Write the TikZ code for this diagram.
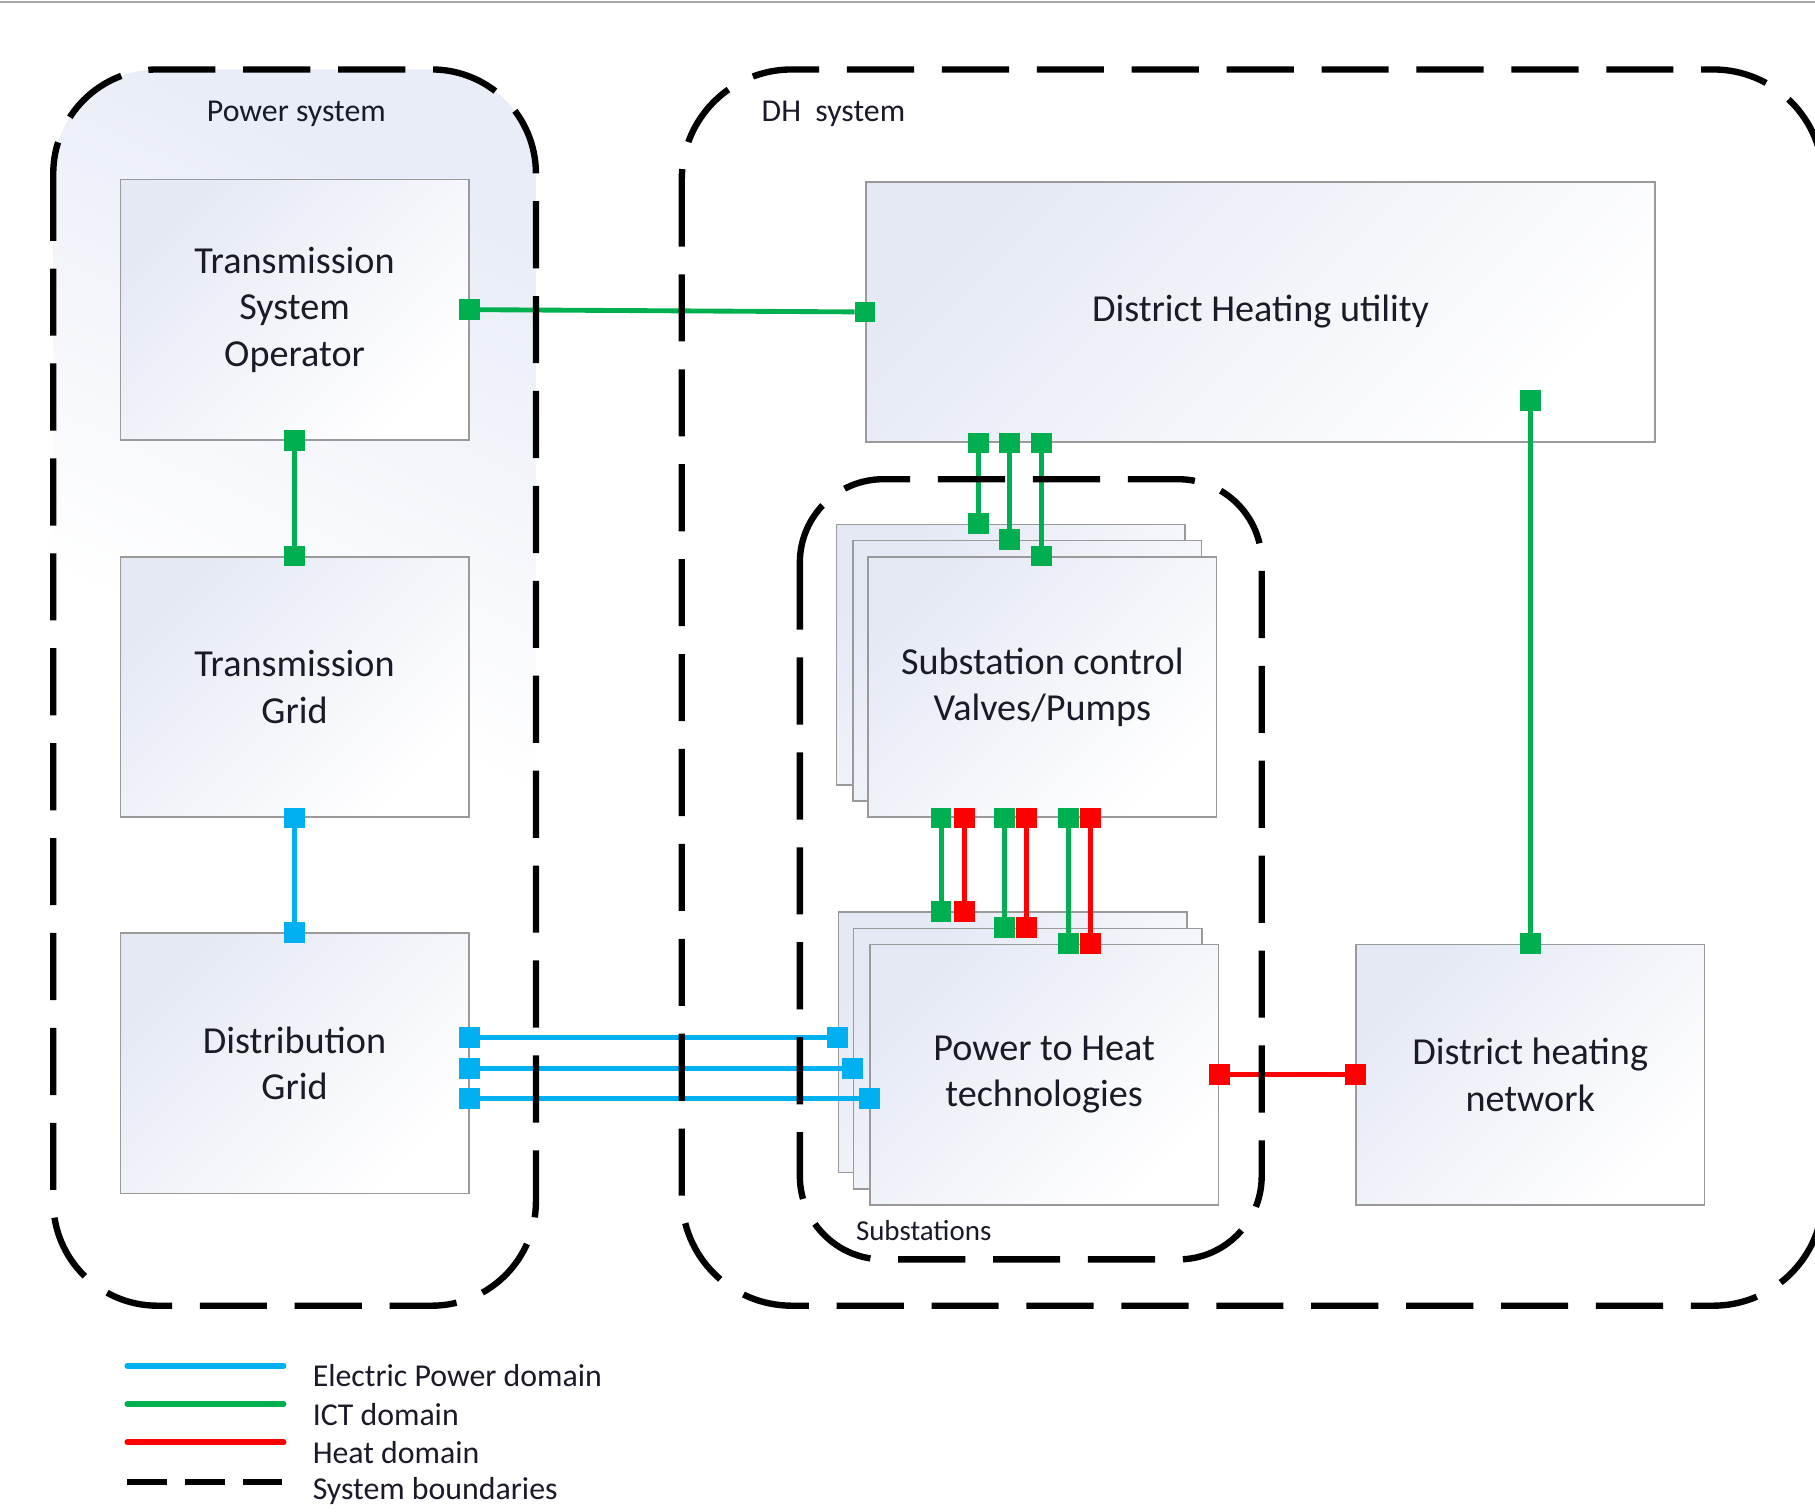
\documentclass[tikz,border=0pt]{standalone}
\usepackage{fontspec}
\setmainfont{Carlito}
\usetikzlibrary{calc}
\definecolor{epblue}{HTML}{00B0F0}
\definecolor{ictgreen}{HTML}{00B050}
\definecolor{heatred}{HTML}{FF0000}
\definecolor{boxblue}{HTML}{E5E9F4}
\definecolor{psblue}{HTML}{E9EDF7}
\definecolor{boxedge}{HTML}{9A9A9A}
\definecolor{txt}{HTML}{1A1A28}
\begin{document}
\begin{tikzpicture}[x=1pt,y=1pt,
  compbox/.style={draw=boxedge, line width=1.4pt, top color=boxblue, bottom color=white, shading angle=45,
    minimum width=301pt, minimum height=225pt, inner sep=0pt, align=center, text=txt,
    font=\fontsize{33}{40}\selectfont},
  bound/.style={draw=black, line width=5.5pt, dash pattern=on 58pt off 24pt},
  lbl/.style={text=txt, font=\fontsize{27.5}{33}\selectfont, inner sep=0pt},
  sq/.style={fill=#1, draw=none, minimum size=18pt, inner sep=0pt, outer sep=0pt},
  conn/.style={draw=#1, line width=4.2pt},
  legline/.style={draw=#1, line width=5pt, line cap=round},
]
\useasboundingbox (0,0) rectangle (1568,-1306);
\clip (0,0) rectangle (1568,-1306);

% top rule
\draw[draw=gray!70, line width=2pt] (0,-2) -- (1568,-2);

% power system background
\shade[top color=psblue, bottom color=white, middle color=white, shading angle=-25, rounded corners=90pt] (46,-60) rectangle (463,-1128);

% component boxes
\node[compbox] (tso) at (254.5,-267.5) {Transmission\\System\\Operator};
\node[compbox] (tg)  at (254.5,-593.5) {Transmission\\Grid};
\node[compbox] (dg)  at (254.5,-918.5) {Distribution\\Grid};
\node[compbox, minimum width=682pt] (dhu) at (1089,-269.5) {District Heating utility};

\node[compbox] (sc1) at (873,-565.5) {};
\node[compbox] (sc2) at (887.5,-579.5) {};
\node[compbox] (sc3) at (900.5,-593.5) {Substation control\\Valves/Pumps};

\node[compbox] (pth1) at (875,-900.5) {};
\node[compbox] (pth2) at (888,-914.5) {};
\node[compbox] (pth3) at (902,-928.5) {Power to Heat\\technologies};

\node[compbox] (dhn) at (1322,-928.5) {District heating\\network};

% connection points
\node[sq=ictgreen] (tsoE) at (tso.east) {};
\node[sq=ictgreen] (dhuW) at (dhu.west) {};
\node[sq=ictgreen] (tsoS) at (tso.south) {};
\node[sq=ictgreen] (tgN) at (tg.north) {};
\node[sq=epblue] (tgS) at (tg.south) {};
\node[sq=epblue] (dgN) at (dg.north) {};

\node[sq=epblue] (dgE1) at (dg.east |- 0,-896) {};
\node[sq=epblue] (dgE2) at (dg.east |- 0,-923) {};
\node[sq=epblue] (dgE3) at (dg.east |- 0,-949) {};
\node[sq=epblue] (pthW1) at (pth1.west |- 0,-896) {};
\node[sq=epblue] (pthW2) at (pth2.west |- 0,-923) {};
\node[sq=epblue] (pthW3) at (pth3.west |- 0,-949) {};

\node[sq=ictgreen] (dhuS1) at (845,0 |- dhu.south) {};
\node[sq=ictgreen] (dhuS2) at (872,0 |- dhu.south) {};
\node[sq=ictgreen] (dhuS3) at (900,0 |- dhu.south) {};
\node[sq=ictgreen] (scN1) at (845,0 |- sc1.north) {};
\node[sq=ictgreen] (scN2) at (872,0 |- sc2.north) {};
\node[sq=ictgreen] (scN3) at (900,0 |- sc3.north) {};

\node[sq=ictgreen] (scSg1) at (813,0 |- sc3.south) {};
\node[sq=heatred]  (scSr1) at (833,0 |- sc3.south) {};
\node[sq=ictgreen] (scSg2) at (868,0 |- sc3.south) {};
\node[sq=heatred]  (scSr2) at (887,0 |- sc3.south) {};
\node[sq=ictgreen] (scSg3) at (923,0 |- sc3.south) {};
\node[sq=heatred]  (scSr3) at (942,0 |- sc3.south) {};

\node[sq=ictgreen] (pthNg1) at (813,0 |- pth1.north) {};
\node[sq=heatred]  (pthNr1) at (833,0 |- pth1.north) {};
\node[sq=ictgreen] (pthNg2) at (868,0 |- pth2.north) {};
\node[sq=heatred]  (pthNr2) at (887,0 |- pth2.north) {};
\node[sq=ictgreen] (pthNg3) at (923,0 |- pth3.north) {};
\node[sq=heatred]  (pthNr3) at (942,0 |- pth3.north) {};

\node[sq=heatred] (pthE) at (pth3.east) {};
\node[sq=heatred] (dhnW) at (dhn.west) {};
\node[sq=ictgreen] (dhuIn) at (1322,-346) {};
\node[sq=ictgreen] (dhnN) at (dhn.north) {};

% connectors
\draw[conn=ictgreen] (tsoE) -- (dhuW);
\draw[conn=ictgreen] (tsoS) -- (tgN);
\draw[conn=epblue] (tgS) -- (dgN);
\draw[conn=epblue] (dgE1) -- (pthW1);
\draw[conn=epblue] (dgE2) -- (pthW2);
\draw[conn=epblue] (dgE3) -- (pthW3);
\draw[conn=ictgreen] (dhuS1) -- (scN1);
\draw[conn=ictgreen] (dhuS2) -- (scN2);
\draw[conn=ictgreen] (dhuS3) -- (scN3);
\draw[conn=ictgreen] (scSg1) -- (pthNg1);
\draw[conn=heatred] (scSr1) -- (pthNr1);
\draw[conn=ictgreen] (scSg2) -- (pthNg2);
\draw[conn=heatred] (scSr2) -- (pthNr2);
\draw[conn=ictgreen] (scSg3) -- (pthNg3);
\draw[conn=heatred] (scSr3) -- (pthNr3);
\draw[conn=heatred] (pthE) -- (dhnW);
\draw[conn=ictgreen] (dhuIn) -- (dhnN);

% system boundaries
\draw[bound, rounded corners=90pt] (46,-60) rectangle (463,-1128);
\draw[bound, rounded corners=95pt] (589,-60) rectangle (1575,-1128);
\draw[bound, rounded corners=72pt] (691,-414) rectangle (1090,-1088);

\node[lbl] (pslabel) at (256,-98) {Power system};
\node[lbl] (dhlabel) at (720,-98) {DH~ system};
\node[lbl, font=\fontsize{25}{30}\selectfont] (sslabel) at (798,-1063) {Substations};

% legend
\draw[legline=epblue] (110,-1180) -- (245,-1180);
\draw[legline=ictgreen] (110,-1213) -- (245,-1213);
\draw[legline=heatred] (110,-1246) -- (245,-1246);
\draw[draw=black, line width=5pt, dash pattern=on 34pt off 16pt] (110,-1280) -- (245,-1280);
\node[lbl, anchor=west] (lg1) at (270,-1188) {Electric Power domain};
\node[lbl, anchor=west] (lg2) at (270,-1222) {ICT domain};
\node[lbl, anchor=west] (lg3) at (270,-1255) {Heat domain};
\node[lbl, anchor=west] (lg4) at (270,-1288) {System boundaries};
\end{tikzpicture}
\end{document}
